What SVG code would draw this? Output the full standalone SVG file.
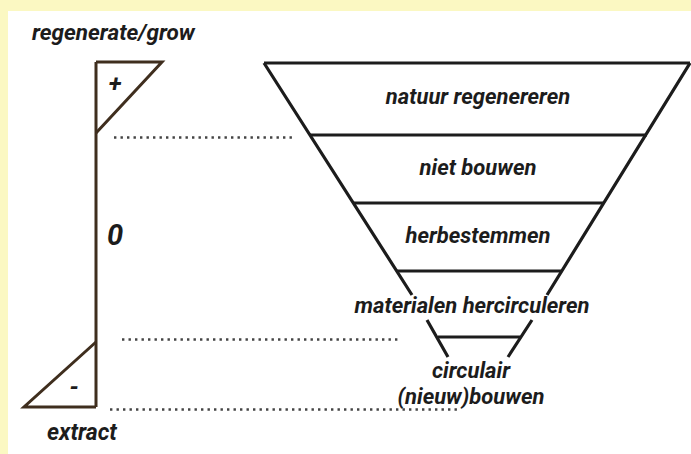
<svg xmlns="http://www.w3.org/2000/svg" width="691" height="454" viewBox="0 0 691 454">
<style>
.t{font-family:Roboto,"Liberation Sans",sans-serif;font-weight:bold;font-style:italic;fill:#1c1c1c;font-size:22px}
.f{stroke:#1c1c1c;stroke-width:3.2;fill:none;stroke-linecap:butt}
.b{stroke:#3f2e1e;stroke-width:3;fill:none;stroke-linejoin:miter}
.d{stroke:#444;stroke-width:2.4;stroke-dasharray:2.4 4.1;fill:none}
</style>
<rect x="0" y="0" width="691" height="454" fill="#fbf8c2"/>
<rect x="8" y="11" width="683" height="443" fill="#ffffff"/>
<g id="scale">
<path class="b" d="M96 62 H162 L96 133"/>
<path class="b" d="M96 62 V407"/>
<path class="b" d="M96 342 L24 407 H96"/>
<text class="t" x="32" y="40" style="font-size:22.5px">regenerate/grow</text>
<text class="t" x="115" y="92" text-anchor="middle" style="font-size:24px">+</text>
<text class="t" x="74" y="395" text-anchor="middle" style="font-size:24px">-</text>
<text class="t" x="115" y="245" text-anchor="middle" style="font-size:29px">0</text>
<text class="t" x="47" y="440" style="font-size:23px">extract</text>
</g>
<g id="funnel">
<path class="f" d="M264 63 L412 295 M427 320 L448 357 M690 63 L547 295 M532 320 L508 357"/>
</g>
<g id="level1">
<line class="f" x1="264" y1="63" x2="690" y2="63"/>
<text class="t" x="478" y="104" text-anchor="middle">natuur regenereren</text>
</g>
<g id="level2">
<line class="f" x1="310" y1="135" x2="647" y2="135"/>
<text class="t" x="478" y="175" text-anchor="middle">niet bouwen</text>
</g>
<g id="level3">
<line class="f" x1="354" y1="203" x2="604" y2="203"/>
<text class="t" x="478" y="243" text-anchor="middle">herbestemmen</text>
</g>
<g id="level4">
<line class="f" x1="397" y1="271" x2="562" y2="271"/>
<text class="t" x="472" y="313" text-anchor="middle">materialen hercirculeren</text>
</g>
<g id="level5">
<line class="f" x1="438" y1="337" x2="520" y2="337"/>
<text class="t" x="471" y="378" text-anchor="middle">circulair</text>
<text class="t" x="471" y="404" text-anchor="middle">(nieuw)bouwen</text>
</g>
<g id="connectors">
<line class="d" x1="114" y1="137.5" x2="292" y2="137.5"/>
<line class="d" x1="122" y1="339.5" x2="401" y2="339.5"/>
<line class="d" x1="110" y1="409.5" x2="460" y2="409.5"/>
</g>
</svg>
